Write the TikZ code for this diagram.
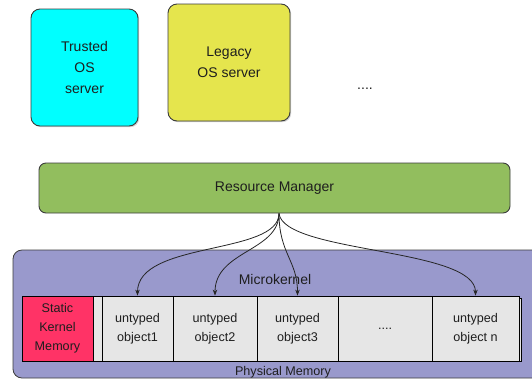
\documentclass[tikz,border=0pt]{standalone}
\usepackage{fontspec}
\setmainfont{Liberation Sans}
\usetikzlibrary{shadows,arrows.meta}
\definecolor{cyanbox}{RGB}{0,255,255}
\definecolor{yellowbox}{RGB}{229,229,77}
\definecolor{greenbox}{RGB}{146,190,94}
\definecolor{purplebox}{RGB}{153,153,204}
\definecolor{redbox}{RGB}{255,51,102}
\definecolor{cellgray}{RGB}{230,230,230}
\definecolor{edge}{RGB}{60,60,60}
\definecolor{txt}{RGB}{30,30,30}
\tikzset{
  serverbox/.style={draw=edge, line width=0.9pt, rounded corners=9pt, align=center,
    font=\fontsize{14}{21}\selectfont, text=txt,
    drop shadow={shadow xshift=1.2pt, shadow yshift=-1.2pt, fill=gray!70}},
  rmbox/.style={draw=edge, line width=0.9pt, rounded corners=7pt, fill=greenbox,
    font=\fontsize{14}{17}\selectfont, text=txt},
  mkbox/.style={draw=edge, line width=0.8pt, rounded corners=9pt, fill=purplebox},
  cell/.style={draw=black, line width=0.8pt, fill=cellgray, minimum height=65pt,
    align=center, font=\fontsize{12.6}{19}\selectfont, text=txt, inner sep=0pt},
  fanarrow/.style={draw=black!85, line width=0.8pt, -{Stealth[length=6pt,width=4.5pt]}},
  lbl/.style={font=\fontsize{14}{17}\selectfont, text=txt, inner sep=0pt},
  slbl/.style={font=\fontsize{12.6}{15}\selectfont, text=txt, inner sep=0pt}
}
\begin{document}
\begin{tikzpicture}[x=1pt,y=-1pt]
\useasboundingbox (0,0) rectangle (532,381);
\clip (0,0) rectangle (532,381);
% top servers
\node[serverbox, fill=cyanbox, minimum width=107pt, minimum height=117pt] (trusted) at (84.5,67.5) {Trusted\\OS\\server};
\node[serverbox, fill=yellowbox, minimum width=122pt, minimum height=117pt] (legacy) at (229,62.5) {Legacy\\OS server};
\node[lbl] (dots) at (365,89) {....};
% resource manager
\node[rmbox, minimum width=471pt, minimum height=50pt] (rm) at (274.5,188) {Resource Manager};
% microkernel
\node[mkbox, minimum width=532pt, minimum height=128pt] (mk) at (279,314) {};
\node[lbl] (mklbl) at (275,279) {Microkernel};
\node[slbl] (pm) at (283,372) {Physical Memory};
% cells
\draw[black, line width=0.8pt, fill=cellgray] (434,298) rectangle (521.5,361);
\node[cell, fill=redbox, minimum width=71pt] (skm) at (57.5,328.5) {Static\\Kernel\\Memory};
\node[cell, minimum width=9pt] (gap) at (97.5,328.5) {};
\node[cell, minimum width=71pt] (o1) at (137.5,328.5) {untyped\\object1};
\node[cell, minimum width=84pt] (o2) at (215,328.5) {untyped\\object2};
\node[cell, minimum width=81pt] (o3) at (297.5,328.5) {untyped\\object3};
\node[cell, minimum width=94pt] (od) at (385,328.5) {....};
\node[cell, minimum width=87pt] (on) at (475.5,328.5) {untyped\\object n};
% fan of arrows
\coordinate (fan) at ([xshift=4.5pt]rm.south);
\draw[fanarrow] (fan) .. controls +(0,42) and +(0,-55) .. (o1.north);
\draw[fanarrow] (fan) .. controls +(0,38) and +(0,-45) .. (o2.north);
\draw[fanarrow] (fan) .. controls +(0,40) and +(0,-35) .. (o3.north);
\draw[fanarrow] (fan) .. controls +(5,40) and +(0,-48) .. (on.north);
\end{tikzpicture}
\end{document}
